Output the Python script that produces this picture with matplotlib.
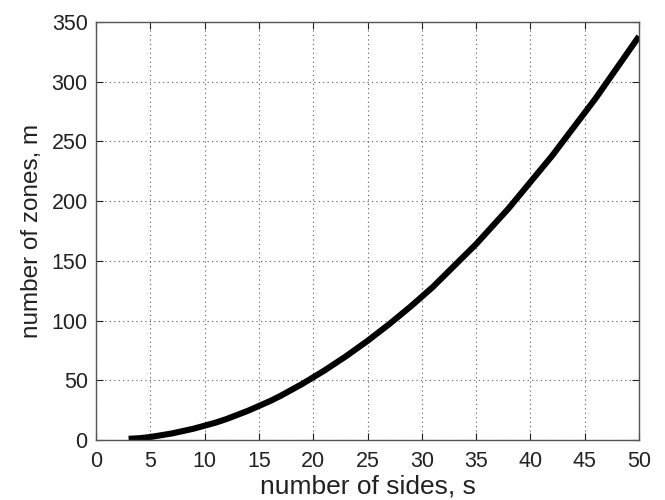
import matplotlib
matplotlib.use("Agg")
import matplotlib.pyplot as plt

# number of sides s and number of zones m
sides = list(range(3, 51))
zones = [1, 1.5, 2.5, 4, 5.5, 7.5, 9.5, 12, 14.5, 17.5, 21, 24.5, 28.5, 32.5,
         37, 42, 47, 52.5, 58, 64, 70, 76.5, 83, 90, 97, 104.5, 112, 120,
         128, 137, 146, 155, 164, 174, 184, 194, 205, 216, 227, 238, 250,
         262, 274, 286, 299, 312, 325, 338]

x_ticks = list(range(0, 51, 5))
y_ticks = list(range(0, 351, 50))

plt.rcParams['font.family'] = ['Liberation Sans', 'DejaVu Sans']

fig = plt.figure(figsize=(6.65, 5), dpi=100)
ax = fig.add_axes([0.1444, 0.12, 0.8165, 0.836])

ax.plot(sides, zones, color='black', linewidth=4.4, solid_capstyle='butt')

ax.set_xlim(0, 50)
ax.set_ylim(0, 350)
ax.set_xticks(x_ticks)
ax.set_yticks(y_ticks)
ax.grid(True, linestyle=(0, (1, 3)), color='#555555', linewidth=0.8)
ax.tick_params(direction='in', top=True, right=True, length=5,
               labelsize=15.5, colors='#222222')
ax.tick_params(axis='x', pad=8)
ax.tick_params(axis='y', pad=6)
for sp in ax.spines.values():
    sp.set_color('#555555')
    sp.set_linewidth(1.0)

ax.set_xlabel('number of sides, s', fontsize=19, color='#222222', labelpad=2)
ax.set_ylabel('number of zones, m', fontsize=17.5, color='#222222', labelpad=6)

fig.savefig('out.png', dpi=100)
